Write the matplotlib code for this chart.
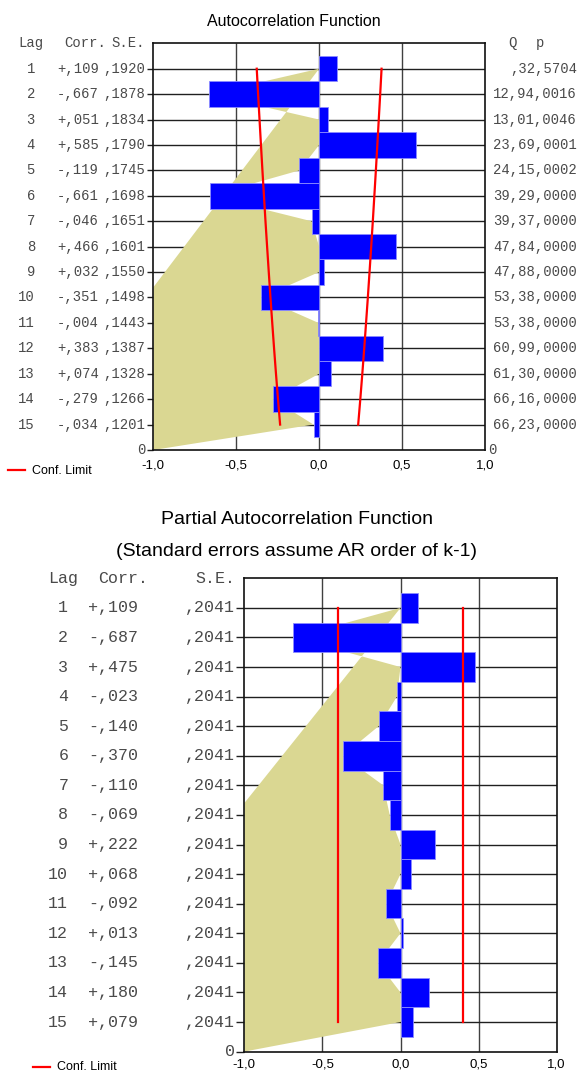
import numpy as np
import matplotlib
matplotlib.use("Agg")
import matplotlib.pyplot as plt
from matplotlib.patches import Polygon
from matplotlib.lines import Line2D
from matplotlib import transforms

lags = np.arange(1, 16)

acf_corr = [0.109, -0.667, 0.051, 0.585, -0.119, -0.661, -0.046, 0.466,
            0.032, -0.351, -0.004, 0.383, 0.074, -0.279, -0.034]
acf_se = [0.1920, 0.1878, 0.1834, 0.1790, 0.1745, 0.1698, 0.1651, 0.1601,
          0.1550, 0.1498, 0.1443, 0.1387, 0.1328, 0.1266, 0.1201]
acf_q = [0.32, 12.94, 13.01, 23.69, 24.15, 39.29, 39.37, 47.84,
         47.88, 53.38, 53.38, 60.99, 61.30, 66.16, 66.23]
acf_p = [0.5704, 0.0016, 0.0046, 0.0001, 0.0002, 0.0000, 0.0000, 0.0000,
         0.0000, 0.0000, 0.0000, 0.0000, 0.0000, 0.0000, 0.0000]

pacf_corr = [0.109, -0.687, 0.475, -0.023, -0.140, -0.370, -0.110, -0.069,
             0.222, 0.068, -0.092, 0.013, -0.145, 0.180, 0.079]
pacf_se = [0.2041, 0.2041, 0.2041, 0.2041, 0.2041, 0.2041, 0.2041, 0.2041,
           0.2041, 0.2041, 0.2041, 0.2041, 0.2041, 0.2041, 0.2041]

xticks = [-1.0, -0.5, 0.0, 0.5, 1.0]
xtick_labels = ["-1,0", "-0,5", "0,0", "0,5", "1,0"]

# height where the shaded band meets the left edge
acf_band_edge = 6.4
pacf_band_edge = 8.4

W, H = 580, 1074
SANS = "Liberation Sans"
MONO = "Liberation Mono"
TXT = "#4a4a4a"


def fmt_corr(c):
    s = f"{abs(c):.3f}"[1:].replace(".", ",")
    return ("+" if c >= 0 else "-") + s


def fmt_dec(v, n):
    s = f"{v:.{n}f}".replace(".", ",")
    if s.startswith("0,"):
        s = s[1:]
    return s


def fx(px):
    return px / W


def fy(py):
    return 1 - py / H


def draw_panel(ax, corr, lo, hi, band_edge, tick_len, pad):
    row_y = 16 - lags
    ax.set_xlim(-1, 1)
    ax.set_ylim(0, 16)

    ax.vlines([-0.5, 0.0, 0.5], 0, 16, colors="#404040", lw=1.0, zorder=1)
    ax.hlines(row_y, -1, 1, colors="#202020", lw=1.0, zorder=1)

    edge = np.minimum(np.array(corr), 0)
    verts = [(-1, 0)] + list(zip(edge[::-1], row_y[::-1])) + [(-1, band_edge)]
    ax.add_patch(Polygon(verts, closed=True, facecolor="#dad792",
                         edgecolor="none", zorder=2))

    ax.barh(row_y, corr, height=1.0, color="#0000ff", edgecolor="#8c8cff",
            lw=0.6, zorder=3)

    ax.plot(lo, row_y, color="red", lw=1.6, zorder=4)
    ax.plot(hi, row_y, color="red", lw=1.6, zorder=4)

    ax.set_xticks(xticks)
    ax.set_xticklabels(xtick_labels, fontfamily=SANS, fontsize=9.5)
    ax.tick_params(axis="x", length=0, pad=pad)
    ax.set_yticks(np.arange(0, 16))
    ax.set_yticklabels([])
    ax.tick_params(axis="y", length=tick_len, width=1.0, color="#202020")
    for s in ax.spines.values():
        s.set_color("#101010")
        s.set_linewidth(1.2)


fig = plt.figure(figsize=(W / 100, H / 100), dpi=100)

# ---- autocorrelation
ax1 = fig.add_axes([153.3 / W, 1 - 450 / H, (485 - 153.3) / W, 406.7 / H])
acf_lim = 1.96 * np.array(acf_se)
draw_panel(ax1, acf_corr, -acf_lim, acf_lim, acf_band_edge, 6 * 0.72, 7)

fig.text(fx(294), fy(22), "Autocorrelation Function", family=SANS,
         fontsize=11.5, ha="center", va="center")

tr1 = transforms.blended_transform_factory(fig.transFigure, ax1.transData)
mono1 = dict(family=MONO, fontsize=10, color=TXT, va="center", transform=tr1)
fig.text(fx(43.3), 16, "Lag", ha="right", **mono1)
fig.text(fx(106), 16, "Corr.", ha="right", **mono1)
fig.text(fx(145.3), 16, "S.E.", ha="right", **mono1)
fig.text(fx(512), 16, "Q", ha="center", **mono1)
fig.text(fx(540), 16, "p", ha="center", **mono1)
for k, c, se, q, p in zip(lags, acf_corr, acf_se, acf_q, acf_p):
    y = 16 - k
    fig.text(fx(35), y, str(k), ha="right", **mono1)
    fig.text(fx(99), y, fmt_corr(c), ha="right", **mono1)
    fig.text(fx(145.3), y, fmt_dec(se, 4), ha="right", **mono1)
    fig.text(fx(577), y, fmt_dec(q, 2) + fmt_dec(p, 4), ha="right", **mono1)
fig.text(fx(145.3), 0, "0", ha="right", **mono1)
fig.text(fx(488), 0, "0", ha="left", **mono1)

fig.add_artist(Line2D([fx(8), fx(25)], [fy(470), fy(470)], color="red",
                      lw=1.6, transform=fig.transFigure))
fig.text(fx(31.7), fy(470.5), "Conf. Limit", family=SANS, fontsize=9,
         va="center", ha="left")

# ---- partial autocorrelation
ax2 = fig.add_axes([244.3 / W, 1 - 1051.6 / H, (556.7 - 244.3) / W, 473.3 / H])
pacf_lim = 1.96 * np.array(pacf_se)
draw_panel(ax2, pacf_corr, -pacf_lim, pacf_lim, pacf_band_edge, 8 * 0.72, 5)

fig.text(fx(297), fy(519.3), "Partial Autocorrelation Function", family=SANS,
         fontsize=14, ha="center", va="center")
fig.text(fx(297), fy(551.7), "(Standard errors assume AR order of k-1)",
         family=SANS, fontsize=14, ha="center", va="center")

tr2 = transforms.blended_transform_factory(fig.transFigure, ax2.transData)
mono2 = dict(family=MONO, fontsize=12, color=TXT, va="center", transform=tr2)
fig.text(fx(78.3), 16, "Lag", ha="right", **mono2)
fig.text(fx(148.3), 16, "Corr.", ha="right", **mono2)
fig.text(fx(235), 16, "S.E.", ha="right", **mono2)
for k, c, se in zip(lags, pacf_corr, pacf_se):
    y = 16 - k
    fig.text(fx(68.3), y, str(k), ha="right", **mono2)
    fig.text(fx(138.3), y, fmt_corr(c), ha="right", **mono2)
    fig.text(fx(235), y, fmt_dec(se, 4), ha="right", **mono2)
fig.text(fx(235), 0, "0", ha="right", **mono2)

# kept a little higher than the source so the label is not clipped
fig.add_artist(Line2D([fx(33), fx(50)], [fy(1067), fy(1067)], color="red",
                      lw=1.6, transform=fig.transFigure))
fig.text(fx(56.7), fy(1067.5), "Conf. Limit", family=SANS, fontsize=9,
         va="center", ha="left")

fig.savefig("out.png", dpi=100)
